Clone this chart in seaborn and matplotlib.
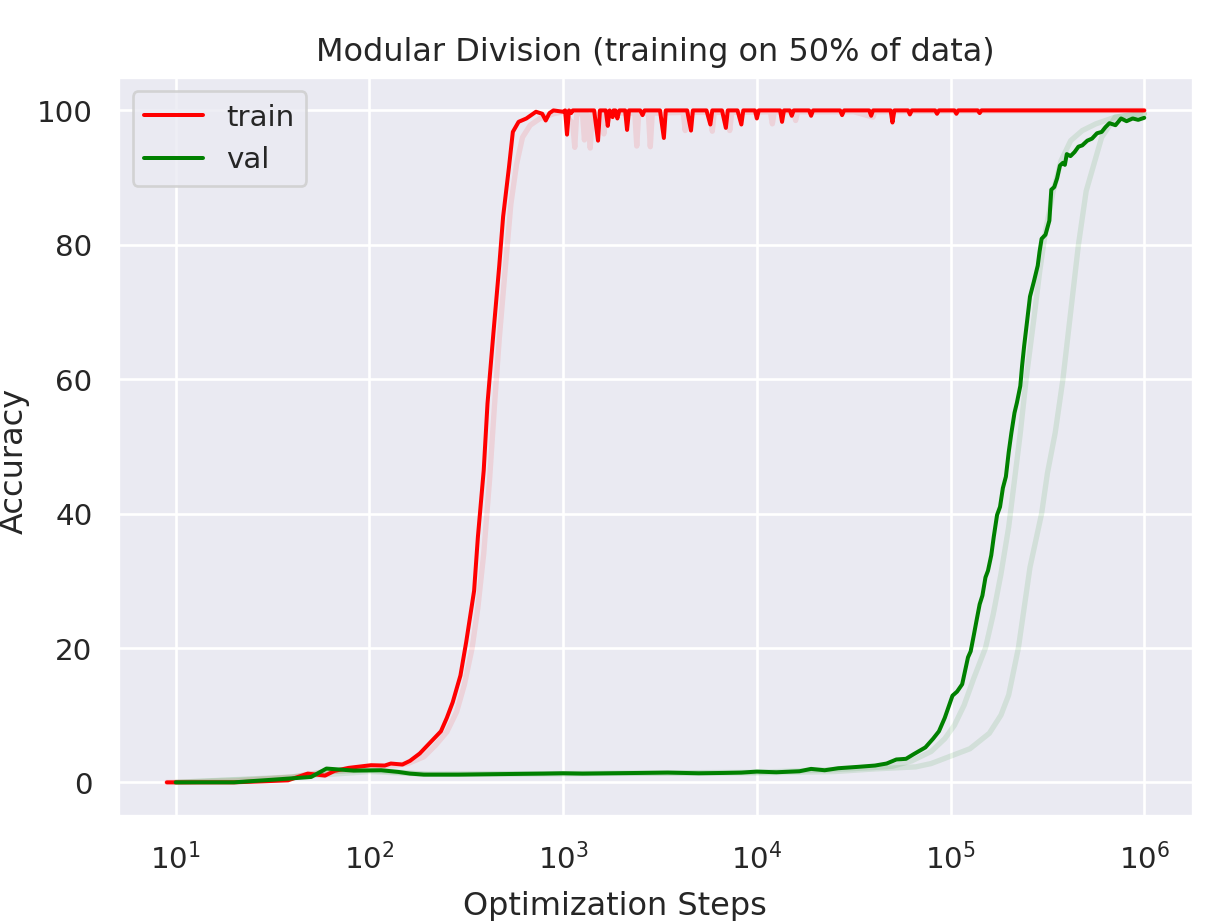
import numpy as np
import pandas as pd
import seaborn as sns
import matplotlib
matplotlib.use("Agg")
import matplotlib.pyplot as plt

# main run, train accuracy
train_steps = [9, 10, 14, 20, 28, 38, 48, 59, 66, 78,
               102, 120, 129, 148, 162, 182, 204, 234, 251, 269,
               295, 316, 347, 363, 389, 407, 437, 468, 490, 525,
               550, 589, 646, 724, 780, 813, 850, 891, 1000, 1024,
               1047, 1072, 1100, 1122, 1148, 1445, 1514, 1549, 1660, 1700,
               1738, 1800, 1820, 1862, 1905, 1950, 2089, 2138, 2188, 2500,
               2570, 2630, 3162, 3311, 3388, 4365, 4571, 4677, 5495, 5754,
               5888, 6607, 6918, 7079, 7943, 8318, 8511, 9772, 10000, 10233,
               13180, 13490, 13804, 14800, 15136, 15500, 18600, 19055, 19500, 26900,
               27542, 28200, 38000, 38905, 39800, 49000, 50119, 51300, 60300, 61660,
               63100, 83200, 85114, 87100, 104700, 107152, 109600, 138000, 141254, 144500,
               1000000]
train_acc = [0.0, 0.0, 0.0, 0.0, 0.15, 0.3, 1.3, 1.0, 1.7, 2.15,
             2.55, 2.5, 2.8, 2.65, 3.2, 4.3, 5.8, 7.6, 9.6, 11.9,
             15.9, 20.9, 28.5, 36.5, 46.4, 56.4, 67.0, 76.9, 84.2, 91.5,
             96.8, 98.3, 98.8, 99.8, 99.5, 98.5, 99.6, 100, 99.8, 100,
             96.4, 100, 99.6, 100, 100, 100, 95.5, 100, 100, 97.7,
             100, 99.0, 100, 100, 98.8, 100, 100, 97.1, 100, 100,
             99.3, 100, 100, 95.9, 100, 100, 97.0, 100, 100, 97.9,
             100, 100, 97.4, 100, 100, 97.9, 100, 100, 98.8, 100,
             100, 98.3, 100, 100, 99.2, 100, 100, 99.2, 100, 100,
             99.3, 100, 100, 99.2, 100, 100, 98.2, 100, 100, 99.4,
             100, 100, 99.5, 100, 100, 99.5, 100, 100, 99.6, 100,
             100]

# main run, validation accuracy
val_steps = [10, 14, 20, 32, 50, 60, 83, 115, 141, 162,
             191, 288, 398, 562, 794, 1000, 1259, 1738, 2512, 3467,
             5012, 6761, 8318, 10000, 12590, 16600, 19050, 22390, 26300, 33110,
             40740, 46770, 52480, 58880, 64570, 74130, 81280, 87100, 93330, 102300,
             108000, 114800, 118000, 123000, 127000, 131800, 136000, 141300, 146000, 151400,
             156000, 162200, 167000, 173800, 180000, 186200, 193000, 199500, 206000, 213800,
             220000, 229100, 234000, 239900, 248000, 257000, 269000, 281800, 288000, 295100,
             309000, 323600, 331100, 343000, 354800, 367000, 380200, 389000, 398100, 416000,
             436500, 457000, 478600, 508000, 537000, 570000, 602600, 630000, 660700, 710000,
             758600, 810000, 871000, 930000, 1000000]
val_acc = [0.0, 0.0, 0.0, 0.4, 0.8, 2.05, 1.75, 1.8, 1.55, 1.3,
           1.15, 1.15, 1.2, 1.25, 1.3, 1.35, 1.3, 1.35, 1.4, 1.45,
           1.35, 1.4, 1.45, 1.6, 1.5, 1.65, 2.0, 1.8, 2.1, 2.3,
           2.5, 2.8, 3.4, 3.5, 4.2, 5.2, 6.5, 7.6, 9.6, 12.9,
           13.5, 14.6, 16.2, 18.6, 19.5, 21.9, 24.0, 26.5, 27.8, 30.5,
           31.5, 33.8, 36.5, 39.8, 41.0, 43.8, 45.5, 49.1, 52.0, 55.0,
           56.5, 59.0, 62.0, 65.0, 68.5, 72.3, 74.5, 76.9, 79.0, 80.9,
           81.5, 83.6, 88.2, 88.6, 89.9, 91.8, 92.2, 91.9, 93.5, 93.2,
           93.8, 94.6, 94.8, 95.5, 95.8, 96.6, 96.8, 97.5, 98.1, 97.8,
           98.8, 98.4, 98.8, 98.6, 98.9]

# other runs, drawn faintly behind
train2_steps = [9, 20, 40, 56, 79, 112, 158, 191, 219, 251,
                282, 309, 339, 363, 389, 417, 442, 468, 501, 537,
                575, 617, 676, 759, 891, 1000, 1122, 1148, 1175, 1259,
                1288, 1318, 1349, 1380, 1413, 1585, 1622, 1660, 2344, 2399,
                2455, 2754, 2818, 2884, 4169, 4266, 4365, 5754, 5888, 6026,
                7079, 7244, 7413, 11750, 12020, 12300, 15490, 15850, 16220, 31620,
                39810, 40740, 100000, 1000000]
train2_acc = [0.0, 0.2, 0.8, 1.5, 1.8, 2.2, 2.8, 3.8, 5.5, 7.5,
              10.5, 14.5, 20.0, 26.0, 34.0, 45.0, 56.0, 66.0, 76.0, 86.0,
              92.0, 96.0, 97.8, 98.8, 99.5, 99.8, 98.0, 94.5, 99.5, 99.5,
              95.6, 99.5, 99.0, 94.4, 99.6, 99.6, 96.5, 99.6, 99.6, 94.7,
              99.6, 99.6, 94.6, 99.6, 99.7, 97.0, 99.7, 99.7, 96.9, 99.7,
              99.7, 97.0, 99.7, 99.8, 98.0, 99.8, 99.8, 98.5, 99.8, 99.8,
              99.0, 99.8, 99.9, 100]

val2_steps = [10, 20, 40, 60, 100, 200, 1000, 10000, 25120, 39810,
              50120, 63100, 79430, 93330, 104700, 117500, 131800, 151400, 166000, 182000,
              199500, 213800, 229100, 245500, 269200, 288400, 309000, 338800, 371500, 416900,
              478600, 562300, 707900, 891300, 1000000]
val2_acc = [0.0, 0.4, 0.8, 1.6, 1.8, 1.2, 1.3, 1.5, 1.9, 2.2,
            2.4, 3.2, 4.6, 6.5, 8.5, 11.5, 15.5, 20.0, 25.0, 31.0,
            38.0, 45.0, 52.0, 60.0, 69.0, 76.0, 82.0, 88.0, 92.5, 95.5,
            97.0, 98.0, 99.0, 99.4, 99.5]

val3_steps = [10, 32, 100, 200, 1000, 10000, 25120, 40740, 66070, 79430,
              100000, 125900, 158500, 182000, 199500, 223900, 239900, 257000, 295100, 316200,
              346700, 380200, 416900, 457100, 501200, 562300, 602600, 707900, 831800, 1000000]
val3_acc = [0.0, 0.6, 1.6, 1.2, 1.3, 1.4, 1.6, 2.0, 2.3, 2.8,
            3.9, 5.0, 7.3, 10.0, 13.0, 20.0, 26.0, 32.0, 40.0, 46.0,
            52.0, 60.0, 70.0, 80.0, 88.0, 93.0, 96.0, 99.0, 99.3, 99.5]

sns.set_theme(style="darkgrid")

fig, ax = plt.subplots(figsize=(6.4, 4.8), dpi=192)
fig.subplots_adjust(left=0.096, right=0.971, top=0.916, bottom=0.114)

# faint runs
sns.lineplot(x=train2_steps, y=train2_acc, color="red", alpha=0.1, lw=2, ax=ax)
sns.lineplot(x=val2_steps, y=val2_acc, color="green", alpha=0.1, lw=2, ax=ax)
sns.lineplot(x=val3_steps, y=val3_acc, color="green", alpha=0.1, lw=2, ax=ax)

sns.lineplot(x=train_steps, y=train_acc, color="red", label="train", ax=ax)
sns.lineplot(x=val_steps, y=val_acc, color="green", label="val", ax=ax)

ax.set_xscale("log")
ax.set_title("Modular Division (training on 50% of data)")
ax.set_xlabel("Optimization Steps", x=0.462, labelpad=6.3)
ax.set_ylabel("Accuracy", y=0.481, labelpad=2.5)
ax.legend(loc="upper left")

plt.savefig("out.png", dpi=192)
